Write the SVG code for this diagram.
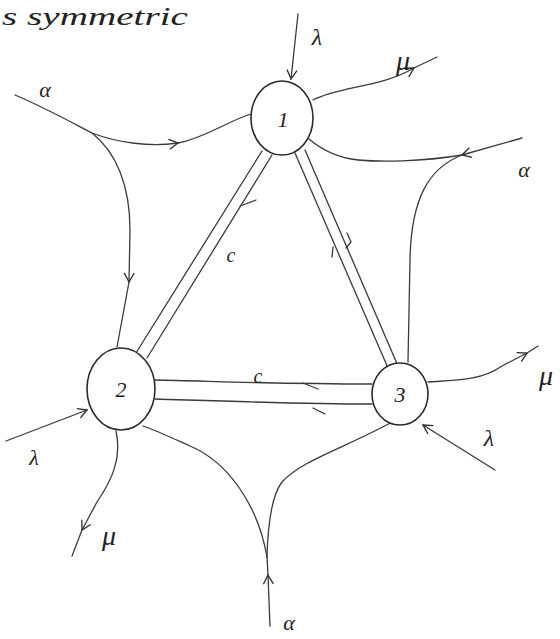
<svg xmlns="http://www.w3.org/2000/svg" width="560" height="639" viewBox="0 0 560 639">
<style>
.ln{fill:none;stroke:#3a3a3a;stroke-width:1.3;stroke-linecap:round;stroke-linejoin:round}
.nd{fill:#fff;stroke:#2a2a2a;stroke-width:1.6}
.lb{font-family:"Liberation Serif","DejaVu Serif",serif;font-style:italic;fill:#222;text-anchor:middle}
.nl{font-family:"Liberation Serif","DejaVu Serif",serif;font-style:italic;font-size:22px;fill:#222;text-anchor:middle}
</style>
<defs>
<marker id="v" viewBox="-10 -6 12 12" refX="0" refY="0" markerWidth="12" markerHeight="12" markerUnits="userSpaceOnUse" orient="auto">
<path d="M-9,-5 L0,0 L-9,5" fill="none" stroke="#2a2a2a" stroke-width="1.3"/>
</marker>
</defs>
<rect width="560" height="639" fill="#fff"/>
<text x="2" y="25" class="lb" style="text-anchor:start;font-size:26px" textLength="186" lengthAdjust="spacingAndGlyphs">s symmetric</text>
<g id="connectors">
<path class="ln" d="M298,14 L291,79" marker-end="url(#v)"/>
<path class="ln" d="M313,100 C340,86 380,88 414,68" marker-end="url(#v)"/>
<path class="ln" d="M414,68 L437,57"/>
<path class="ln" d="M522,138 L462,155" marker-end="url(#v)"/>
<path class="ln" d="M462,155 C420,162 380,162 358,160 C340,158 322,150 309,139"/>
<path class="ln" d="M462,155 C428,168 411,200 410,260 L408,362"/>
<path class="ln" d="M15,95 C50,110 78,126 92,133 C118,143 150,147 178,143" marker-end="url(#v)"/>
<path class="ln" d="M178,143 C205,138 230,120 251,114"/>
<path class="ln" d="M92,133 C116,152 130,185 130,230 L129,282" marker-end="url(#v)"/>
<path class="ln" d="M129,282 L117,347"/>
<path class="ln" d="M262,151 L136,353"/>
<path class="ln" d="M272,155 L147,358"/>
<path class="ln" d="M240,206 L256,200"/>
<path class="ln" d="M295,153 L388,368"/>
<path class="ln" d="M305,150 L398,366"/>
<path class="ln" d="M347,233 L351,242 L346,248"/>
<path class="ln" d="M333,247 L332,257"/>
<path class="ln" d="M155,380 C210,381 270,384 372,384"/>
<path class="ln" d="M155,399 C220,401 300,404 372,404"/>
<path class="ln" d="M303,383 L318,389"/>
<path class="ln" d="M313,408 L325,414"/>
<path class="ln" d="M6,441 L87,410" marker-end="url(#v)"/>
<path class="ln" d="M116,431 C122,458 112,480 97,502 L82,530" marker-end="url(#v)"/>
<path class="ln" d="M82,530 L72,556"/>
<path class="ln" d="M270,626 L268,575" marker-end="url(#v)"/>
<path class="ln" d="M268,575 L267,557"/>
<path class="ln" d="M267,557 C258,505 228,462 190,446 C170,437 155,430 143,426"/>
<path class="ln" d="M267,557 C268,520 272,495 282,482 C302,460 345,448 394,421"/>
<path class="ln" d="M428,382 C460,380 482,380 502,366 L527,353" marker-end="url(#v)"/>
<path class="ln" d="M527,353 L538,346"/>
<path class="ln" d="M495,470 L423,425" marker-end="url(#v)"/>
</g>
<g id="node1">
<ellipse class="nd" cx="282" cy="118" rx="31" ry="37"/>
<text class="nl" x="283" y="127">1</text>
</g>
<g id="node2">
<ellipse class="nd" cx="121" cy="389" rx="34" ry="41"/>
<text class="nl" x="121" y="397">2</text>
</g>
<g id="node3">
<ellipse class="nd" cx="400" cy="394" rx="28" ry="31"/>
<text class="nl" x="400" y="402">3</text>
</g>
<g id="labels">
<text class="lb" x="317" y="45" font-size="24">λ</text>
<text class="lb" x="403" y="70" font-size="28">μ</text>
<text class="lb" x="45" y="97" font-size="22">α</text>
<text class="lb" x="524" y="177" font-size="22">α</text>
<text class="lb" x="231" y="262" font-size="20">c</text>
<text class="lb" x="258" y="383" font-size="20">c</text>
<text class="lb" x="34" y="465" font-size="22">λ</text>
<text class="lb" x="109" y="545" font-size="28">μ</text>
<text class="lb" x="289" y="630" font-size="22">α</text>
<text class="lb" x="546" y="385" font-size="28">μ</text>
<text class="lb" x="489" y="446" font-size="24">λ</text>
</g>
</svg>
